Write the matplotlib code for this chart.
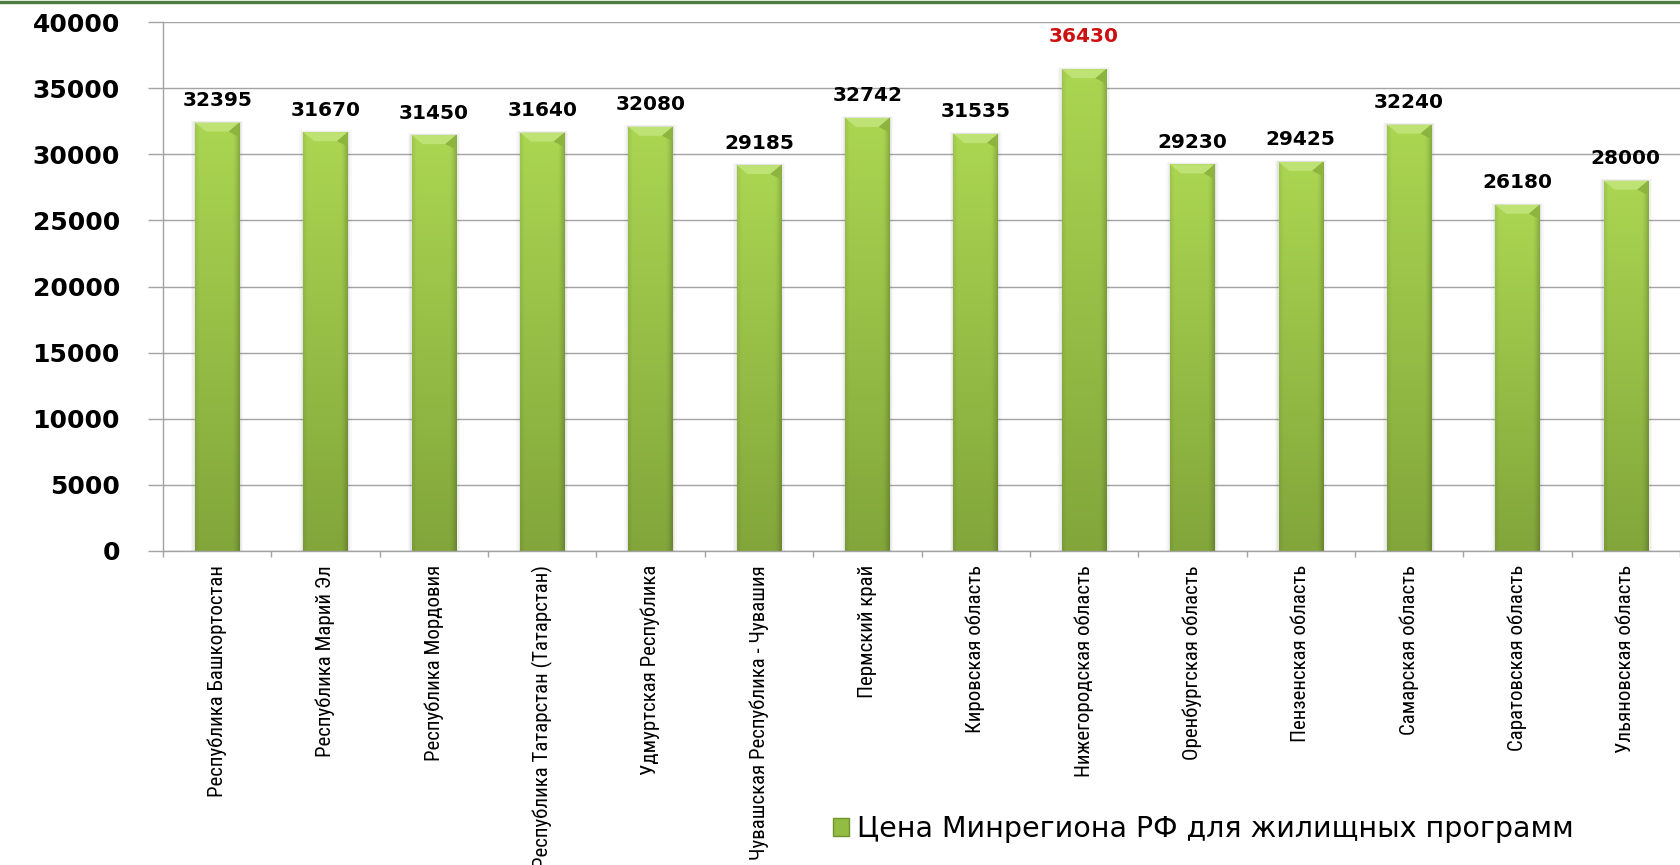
import numpy as np
import matplotlib
matplotlib.use("Agg")
import matplotlib.pyplot as plt
from matplotlib import font_manager
from matplotlib.patches import Patch, Polygon, Rectangle
from matplotlib.lines import Line2D

regions = [
    "Республика Башкортостан",
    "Республика Марий Эл",
    "Республика Мордовия",
    "Республика Татарстан (Татарстан)",
    "Удмуртская Республика",
    "Чувашская Республика - Чувашия",
    "Пермский край",
    "Кировская область",
    "Нижегородская область",
    "Оренбургская область",
    "Пензенская область",
    "Самарская область",
    "Саратовская область",
    "Ульяновская область",
]
prices = [32395, 31670, 31450, 31640, 32080, 29185, 32742,
          31535, 36430, 29230, 29425, 32240, 26180, 28000]
series_name = "Цена Минрегиона РФ для жилищных программ"
y_ticks = [0, 5000, 10000, 15000, 20000, 25000, 30000, 35000, 40000]

# narrow face for the rotated region names
installed = {f.name for f in font_manager.fontManager.ttflist}
narrow = None
for name in ["Liberation Sans Narrow", "DejaVu Sans Condensed",
             "Roboto Condensed", "Open Sans Condensed", "Noto Sans Condensed"]:
    if name in installed:
        narrow = name
        break
label_kw = dict(family=[narrow, "DejaVu Sans"], fontsize=15) if narrow else \
    dict(family=["Roboto", "DejaVu Sans"], fontsize=13, fontstretch="condensed")

W, H = 1680, 865
fig = plt.figure(figsize=(W / 100, H / 100), dpi=100)
fig.patch.set_facecolor("white")

# dark green rule along the top edge
fig.add_artist(Line2D([0, 1], [1 - 1.5 / H] * 2, color="#4b7b3d", lw=2.4,
                      transform=fig.transFigure))

left, bottom, top = 163 / W, 1 - 551 / H, 1 - 22 / H
ax = fig.add_axes([left, bottom, 1 - left, top - bottom])

n = len(regions)
x = np.arange(n)
bar_w = 0.41
xlim = (-0.5, -0.5 + (W - 163) / 109.4)
ylim = (0, 40000)

ax.yaxis.grid(True, color="#a3a3a3", lw=1.0)
ax.set_axisbelow(True)

bars = ax.bar(x, prices, width=bar_w, color="#93bd42", edgecolor="none",
              zorder=2)

# gradient fill: lighter at the top, darker toward the bottom and right edge
ny, nx = 200, 60
t = np.linspace(0, 1, ny)[:, None]          # 0 = top, 1 = bottom
s = np.linspace(0, 1, nx)[None, :]
c_top = np.array([0.67, 0.84, 0.32])
c_bot = np.array([0.51, 0.65, 0.23])
grad = c_top[None, None, :] * (1 - t[..., None]) + c_bot[None, None, :] * t[..., None]
edge = 1 - 0.2 * np.clip((s - 0.84) / 0.16, 0, 1) ** 1.5 - 0.07 * np.clip((0.1 - s) / 0.1, 0, 1)
grad = np.clip(grad * edge[..., None], 0, 1)

px_y = 40000 / 529  # data units per pixel, vertical
px_x = 1 / 109.4     # data units per pixel, horizontal

for b in bars:
    x0, w, h = b.get_x(), b.get_width(), b.get_height()
    # soft shadow
    for k, a in [(4, 0.04), (2.5, 0.06), (1.2, 0.08)]:
        ax.add_patch(Rectangle((x0 - k * px_x, 0), w + 2 * k * px_x,
                               h + k * px_y * 0.5, facecolor="#606060",
                               edgecolor="none", alpha=a, zorder=1.5))
    im = ax.imshow(grad, extent=(x0, x0 + w, 0, h), aspect="auto",
                   origin="upper", zorder=2.1, interpolation="bilinear")
    im.set_clip_path(b)
    # bevelled top cap
    bev_h = 9 * px_y
    bev_w = 11 * px_x
    ax.add_patch(Polygon([(x0, h), (x0 + w, h), (x0 + w - bev_w, h - bev_h),
                          (x0 + bev_w, h - bev_h)], closed=True,
                         facecolor="#bfe274", edgecolor="none", zorder=2.2))
    ax.add_patch(Polygon([(x0 + w, h), (x0 + w, h - bev_h * 1.6),
                          (x0 + w - bev_w, h - bev_h)], closed=True,
                         facecolor="#8db43f", edgecolor="none", zorder=2.2))

ax.set_xlim(*xlim)
ax.set_ylim(*ylim)

# value labels, maximum highlighted in red and lifted a little
top_i = int(np.argmax(prices))
for i, v in enumerate(prices):
    hi = i == top_i
    ax.annotate(f"{v}", (x[i], v), xytext=(0, 17 if hi else 9),
                textcoords="offset points", ha="center", va="bottom",
                fontsize=14.5, fontweight="bold", family="DejaVu Sans",
                color="#cc1111" if hi else "black", zorder=5)

ax.set_yticks(y_ticks)
ax.set_yticklabels([str(v) for v in y_ticks], fontsize=18, fontweight="bold",
                   family="DejaVu Sans")
ax.tick_params(axis="y", length=11, width=1, color="#a3a3a3", pad=20)

ax.set_xticks(x)
ax.set_xticklabels(regions, rotation=90, va="top", ha="center", **label_kw)
ax.tick_params(axis="x", which="major", length=0, pad=10)
ax.set_xticks(np.arange(n + 1) - 0.5, minor=True)
ax.tick_params(axis="x", which="minor", length=4.5, width=1, color="#a3a3a3")

for side in ("top", "right"):
    ax.spines[side].set_visible(False)
for side in ("left", "bottom"):
    ax.spines[side].set_color("#a3a3a3")
    ax.spines[side].set_linewidth(1.0)

handle = Patch(facecolor="#93bd42", edgecolor="#6f9430")
fig.legend([handle], [series_name], loc="center left",
           bbox_to_anchor=(833 / W, 1 - 829 / H), frameon=False,
           fontsize=20.5, handlelength=0.55, handleheight=0.55,
           handletextpad=0.3, borderpad=0, borderaxespad=0)

fig.savefig("out.png", dpi=100, facecolor="white")
